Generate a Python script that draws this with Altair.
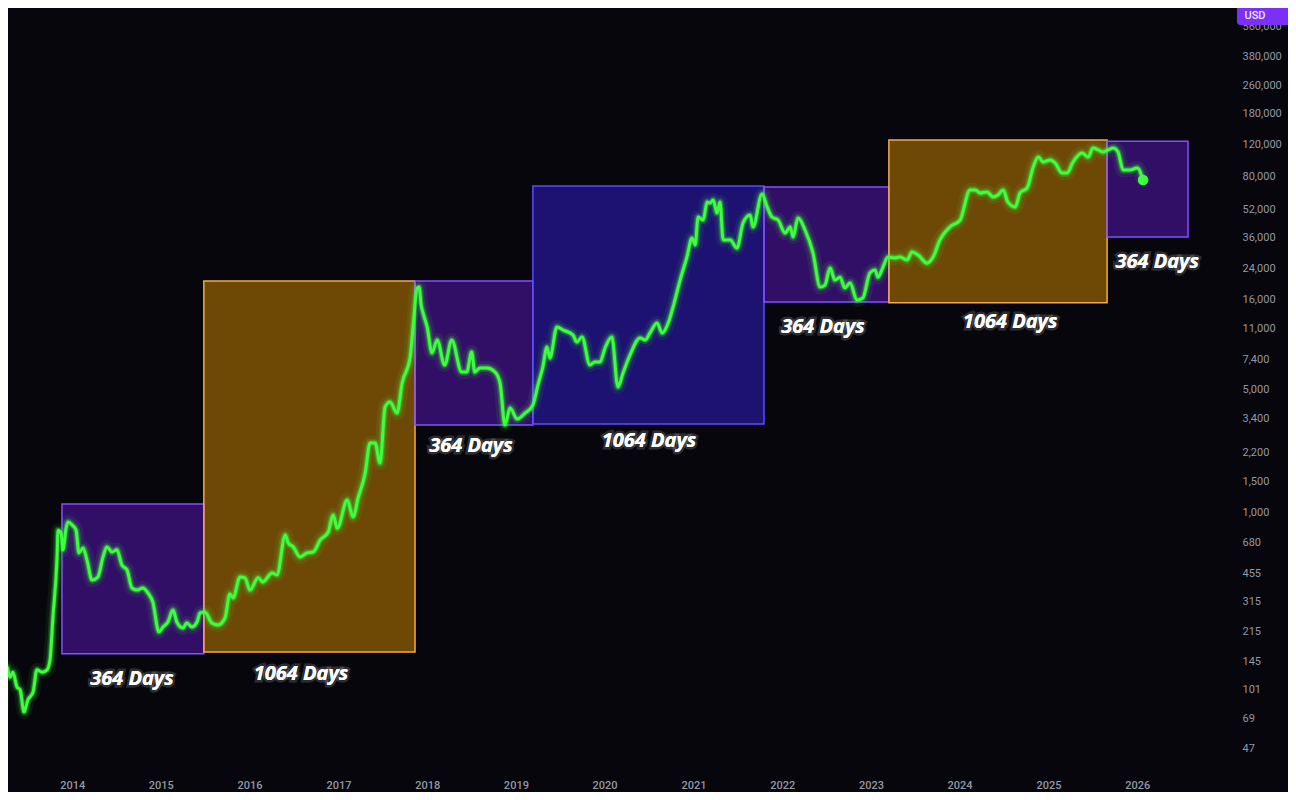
import pandas as pd
import altair as alt

# BTC weekly-ish closes (USD)
dates = [
    "2013-03-10", "2013-03-31", "2013-04-08", "2013-04-20", "2013-05-02", "2013-05-19",
    "2013-06-01", "2013-06-17", "2013-07-03", "2013-07-24", "2013-08-09", "2013-08-30",
    "2013-09-20", "2013-10-02", "2013-10-14", "2013-10-31", "2013-11-04", "2013-11-16",
    "2013-11-24", "2013-12-07", "2013-12-15", "2014-01-01", "2014-01-17", "2014-01-29",
    "2014-02-15", "2014-03-03", "2014-03-24", "2014-04-17", "2014-05-08", "2014-05-24",
    "2014-06-14", "2014-07-04", "2014-07-25", "2014-08-15", "2014-09-04", "2014-09-25",
    "2014-10-19", "2014-11-09", "2014-11-29", "2014-12-24", "2015-01-10", "2015-01-30",
    "2015-02-20", "2015-03-08", "2015-04-02", "2015-04-18", "2015-05-09", "2015-05-30",
    "2015-06-11", "2015-07-01", "2015-07-30", "2015-08-24", "2015-09-22", "2015-10-12",
    "2015-10-25", "2015-11-23", "2015-12-13", "2016-01-03", "2016-02-05", "2016-02-25",
    "2016-04-03", "2016-04-23", "2016-05-27", "2016-06-08", "2016-06-29", "2016-07-27",
    "2016-08-25", "2016-09-19", "2016-10-18", "2016-11-20", "2016-12-10", "2016-12-27",
    "2017-02-06", "2017-03-02", "2017-03-23", "2017-04-21", "2017-05-11", "2017-06-01",
    "2017-06-21", "2017-07-12", "2017-08-01", "2017-08-30", "2017-09-20", "2017-10-23",
    "2017-11-04", "2017-11-21", "2017-11-29", "2017-12-07", "2017-12-15", "2018-01-01",
    "2018-01-21", "2018-02-11", "2018-03-14", "2018-04-12", "2018-05-23", "2018-06-13",
    "2018-07-03", "2018-07-16", "2018-08-06", "2018-09-04", "2018-10-07", "2018-10-28",
    "2018-11-17", "2018-12-08", "2019-01-06", "2019-02-08", "2019-03-12", "2019-04-02",
    "2019-04-22", "2019-05-09", "2019-05-21", "2019-06-19", "2019-07-14", "2019-08-24",
    "2019-09-09", "2019-09-30", "2019-11-02", "2019-11-22", "2019-12-13", "2020-01-03",
    "2020-01-31", "2020-02-25", "2020-03-17", "2020-04-15", "2020-05-26", "2020-06-16",
    "2020-07-06", "2020-08-04", "2020-08-25", "2020-09-19", "2020-10-09", "2020-11-07",
    "2020-12-05", "2020-12-26", "2021-01-08", "2021-01-20", "2021-02-10", "2021-02-26",
    "2021-03-10", "2021-03-23", "2021-04-08", "2021-04-20", "2021-05-03", "2021-06-01",
    "2021-06-29", "2021-07-24", "2021-08-22", "2021-09-03", "2021-10-10", "2021-10-31",
    "2021-11-20", "2021-12-15", "2022-01-13", "2022-02-03", "2022-02-15", "2022-03-07",
    "2022-04-05", "2022-05-08", "2022-06-06", "2022-06-26", "2022-07-17", "2022-08-06",
    "2022-08-27", "2022-09-16", "2022-10-07", "2022-11-05", "2022-11-29", "2022-12-28",
    "2023-01-18", "2023-01-30", "2023-02-20", "2023-03-12", "2023-04-10", "2023-05-01",
    "2023-05-30", "2023-06-19", "2023-07-14", "2023-08-20", "2023-09-14", "2023-10-12",
    "2023-11-22", "2024-01-03", "2024-02-13", "2024-03-05", "2024-03-25", "2024-04-23",
    "2024-05-18", "2024-06-07", "2024-06-28", "2024-07-18", "2024-08-17", "2024-09-06",
    "2024-10-05", "2024-10-30", "2024-11-20", "2024-12-10", "2025-01-08", "2025-01-28",
    "2025-02-26", "2025-03-18", "2025-04-12", "2025-05-19", "2025-06-13", "2025-07-03",
    "2025-07-24", "2025-08-13", "2025-09-03", "2025-09-24", "2025-10-14", "2025-11-04",
    "2025-12-03", "2026-01-01", "2026-01-25",
]
prices = [
    56, 130, 135, 118, 126, 104,
    100, 75, 88, 97, 130, 126,
    130, 148, 258, 564, 800, 770,
    620, 820, 890, 855, 800, 595,
    635, 542, 418, 435, 564, 643,
    602, 620, 508, 476, 377, 367,
    377, 353, 314, 213, 227, 242,
    283, 242, 224, 239, 227, 242,
    272, 276, 239, 233, 255, 349,
    331, 435, 430, 367, 430, 408,
    458, 447, 750, 677, 643, 564,
    595, 602, 704, 781, 975, 820,
    1184, 950, 1216, 1683, 2485, 2485,
    1916, 3970, 4240, 3670, 5420, 7610,
    11240, 18670, 18900, 15000, 13500, 11240,
    8020, 9490, 6860, 9490, 6260, 6260,
    8120, 6260, 6590, 6590, 6260, 5420,
    3140, 3920, 3400, 3670, 4070, 5290,
    6680, 8670, 7510, 11240, 10810, 10130,
    9250, 9870, 6860, 7130, 7130, 8550,
    9870, 5150, 6180, 7810, 9750, 9490,
    10400, 11840, 10400, 11840, 14580, 20700,
    27900, 35800, 32700, 47000, 45200, 57100,
    56400, 58600, 49500, 57100, 34900, 34900,
    31400, 43500, 48300, 41300, 63400, 53600,
    47000, 45200, 38200, 41300, 36300, 46400,
    39700, 29400, 18900, 19400, 24200, 20700,
    21500, 18700, 19900, 15960, 16400, 22700,
    23600, 21500, 24500, 27900, 27600, 27900,
    26900, 29800, 28700, 25800, 27900, 34900,
    41300, 45200, 66800, 66800, 64300, 65100,
    61000, 62600, 66800, 57100, 53600, 64300,
    68600, 90200, 102600, 96200, 98700, 94900,
    83300, 83300, 96200, 108100, 102600, 115400,
    112500, 109600, 112500, 115400, 109600, 86700,
    86700, 88900, 76100,
]

# Cycle boxes
box_start = ["2013-11-20", "2015-06-27", "2017-11-12", "2019-03-12",
             "2021-10-18", "2023-03-16", "2025-08-30"]
box_end = ["2015-06-27", "2017-11-12", "2019-03-12", "2021-10-18",
           "2023-03-16", "2025-08-30", "2026-07-29"]
box_low = [160, 164, 3140, 3180, 15560, 15400, 36300]
box_high = [1124, 20450, 20450, 70400, 69500, 128000, 126000]
box_phase = ["drawdown", "expansion", "drawdown", "recovery",
             "drawdown", "expansion", "drawdown"]

# Box captions
label_text = ["364 Days", "1064 Days", "364 Days", "1064 Days",
              "364 Days", "1064 Days", "364 Days"]
label_date = ["2014-09-04", "2016-07-31", "2018-06-30", "2020-07-02",
              "2022-06-18", "2024-07-27", "2026-03-24"]
label_price = [115, 123, 2390, 2550, 11240, 12000, 26200]

year_ticks = list(range(2014, 2027))
price_ticks = [47, 69, 101, 145, 215, 315, 455, 680, 1000, 1500, 2200, 3400,
               5000, 7400, 11000, 16000, 24000, 36000, 52000, 80000, 120000,
               180000, 260000, 380000, 560000]

price_df = pd.DataFrame({"date": dates, "price": prices})
box_df = pd.DataFrame({"start": box_start, "end": box_end, "low": box_low,
                       "high": box_high, "phase": box_phase})
label_df = pd.DataFrame({"date": label_date, "price": label_price, "text": label_text})
last_df = price_df.tail(1)

BG = "#06060c"
GREEN = "#3dff3d"
AXIS_GREY = "#9598a3"

x_scale = alt.Scale(domain=[alt.DateTime(year=2013, month=4, date=12),
                            alt.DateTime(year=2027, month=1, date=26)])
y_scale = alt.Scale(type="log", domain=[34.4, 713000])

x_axis = alt.Axis(
    values=[alt.DateTime(year=y, month=1, date=1) for y in year_ticks],
    format="%Y", labelColor=AXIS_GREY, labelFontSize=11, labelFont="Roboto",
    labelFontWeight=500, domain=False, ticks=False, grid=False,
    labelPadding=7, labelFlush=False, labelOverlap=False, title=None,
)
y_axis = alt.Axis(
    orient="right", values=price_ticks, format=",d", labelColor=AXIS_GREY,
    labelFontSize=11, labelFont="Roboto", domain=False, ticks=False, grid=False,
    labelPadding=10, labelOverlap=False, title=None,
)

boxes = alt.Chart(box_df).mark_rect(fillOpacity=0.42, strokeWidth=1.5).encode(
    x=alt.X("start:T", scale=x_scale, axis=x_axis),
    x2="end:T",
    y=alt.Y("low:Q", scale=y_scale, axis=y_axis),
    y2="high:Q",
    fill=alt.Fill("phase:N", legend=None, scale=alt.Scale(
        domain=["drawdown", "expansion", "recovery"],
        range=["#6f1ce6", "#ffa800", "#3f22ff"])),
    stroke=alt.Stroke("phase:N", legend=None, scale=alt.Scale(
        domain=["drawdown", "expansion", "recovery"],
        range=["#8250ff", "#f2aa4c", "#5a4cff"])),
)

def price_line(width, opacity):
    return alt.Chart(price_df).mark_line(
        color=GREEN, strokeWidth=width, opacity=opacity, clip=True,
        interpolate="monotone", strokeJoin="round", strokeCap="round",
    ).encode(
        x=alt.X("date:T", scale=x_scale, axis=x_axis),
        y=alt.Y("price:Q", scale=y_scale, axis=y_axis),
    )

glow = price_line(14, 0.08) + price_line(8, 0.18) + price_line(5, 0.35)
line = price_line(3, 1)

end_dot = alt.Chart(last_df).mark_circle(color=GREEN, size=110, opacity=1).encode(
    x=alt.X("date:T", scale=x_scale, axis=x_axis),
    y=alt.Y("price:Q", scale=y_scale, axis=y_axis),
)

text_glow = alt.Chart(label_df).mark_text(
    font="Open Sans", fontSize=20, fontWeight="bold", fontStyle="italic",
    color="#ffffff", stroke="#ffffff", strokeWidth=5, strokeOpacity=0.18,
    align="center", baseline="middle",
).encode(
    x=alt.X("date:T", scale=x_scale, axis=x_axis),
    y=alt.Y("price:Q", scale=y_scale, axis=y_axis),
    text="text:N",
)
text = alt.Chart(label_df).mark_text(
    font="Open Sans", fontSize=20, fontWeight="bold", fontStyle="italic",
    color="#ffffff", align="center", baseline="middle",
).encode(
    x=alt.X("date:T", scale=x_scale, axis=x_axis),
    y=alt.Y("price:Q", scale=y_scale, axis=y_axis),
    text="text:N",
)

# currency badge above the price scale
badge = alt.Chart(box_df.head(1)).mark_rect(
    color="#7b2ff7", cornerRadius=3, clip=False
).encode(x=alt.value(1229), x2=alt.value(1282), y=alt.value(-4), y2=alt.value(17))
badge_text = alt.Chart(box_df.head(1)).mark_text(
    text="USD", color="#f0e8ff", font="Roboto", fontSize=11, fontWeight=500,
    align="center", baseline="middle", clip=False,
).encode(x=alt.value(1247), y=alt.value(8))

chart = (
    alt.layer(boxes, glow, line, end_dot, text_glow, text, badge, badge_text)
    .properties(
        width=1224, height=764, background=BG,
        padding={"left": 0, "top": 0, "right": 56, "bottom": 20},
        autosize=alt.AutoSizeParams(type="none"),
    )
    .configure_view(stroke=None, fill=BG)
)

chart.save("out.html", embed_options={"renderer": "svg", "actions": False})
